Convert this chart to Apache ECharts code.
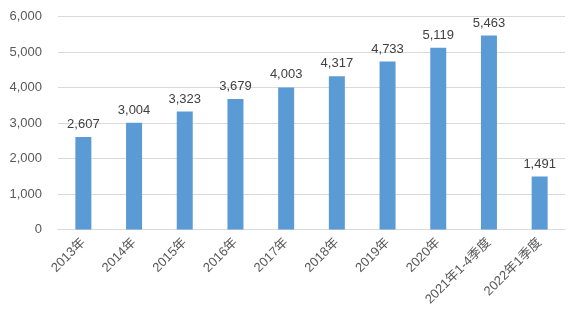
<!DOCTYPE html>
<html><head><meta charset="utf-8">
<script src="https://cdn.jsdelivr.net/npm/echarts@6/dist/echarts.min.js"></script>
<style>html,body{margin:0;padding:0;background:#fff}#c{width:573px;height:326px}</style>
</head><body><div id="c"></div>
<script>
const categories = ['2013年','2014年','2015年','2016年','2017年','2018年','2019年','2020年','2021年1-4季度','2022年1季度'];
const values = [2607,3004,3323,3679,4003,4317,4733,5119,5463,1491];
const yTicks = [0,1000,2000,3000,4000,5000,6000];
const font = '"Liberation Sans", "Noto Sans CJK SC", sans-serif';
const chart = echarts.init(document.getElementById('c'));
chart.setOption({
  animation:false,
  grid:{left:58,right:8,top:16.5,bottom:96.5,containLabel:false},
  xAxis:{type:'category',data:categories,
    axisLine:{lineStyle:{color:'#d9d9d9',width:1}},
    axisTick:{show:false},
    axisLabel:{rotate:45,color:'#595959',fontSize:13,fontFamily:font,margin:11,interval:0}},
  yAxis:{type:'value',min:yTicks[0],max:yTicks[yTicks.length-1],interval:1000,
    axisLine:{show:false},axisTick:{show:false},
    splitLine:{lineStyle:{color:'#d9d9d9',width:1}},
    axisLabel:{color:'#595959',fontSize:13,fontFamily:font,margin:16,
      formatter:v=>v.toLocaleString('en-US')}},
  series:[{type:'bar',data:values,barWidth:16,
    itemStyle:{color:'#5b9bd5'},
    label:{show:true,position:'top',distance:6,color:'#404040',fontSize:13,fontFamily:font,
      formatter:p=>p.value.toLocaleString('en-US')}}]
});
</script></body></html>
